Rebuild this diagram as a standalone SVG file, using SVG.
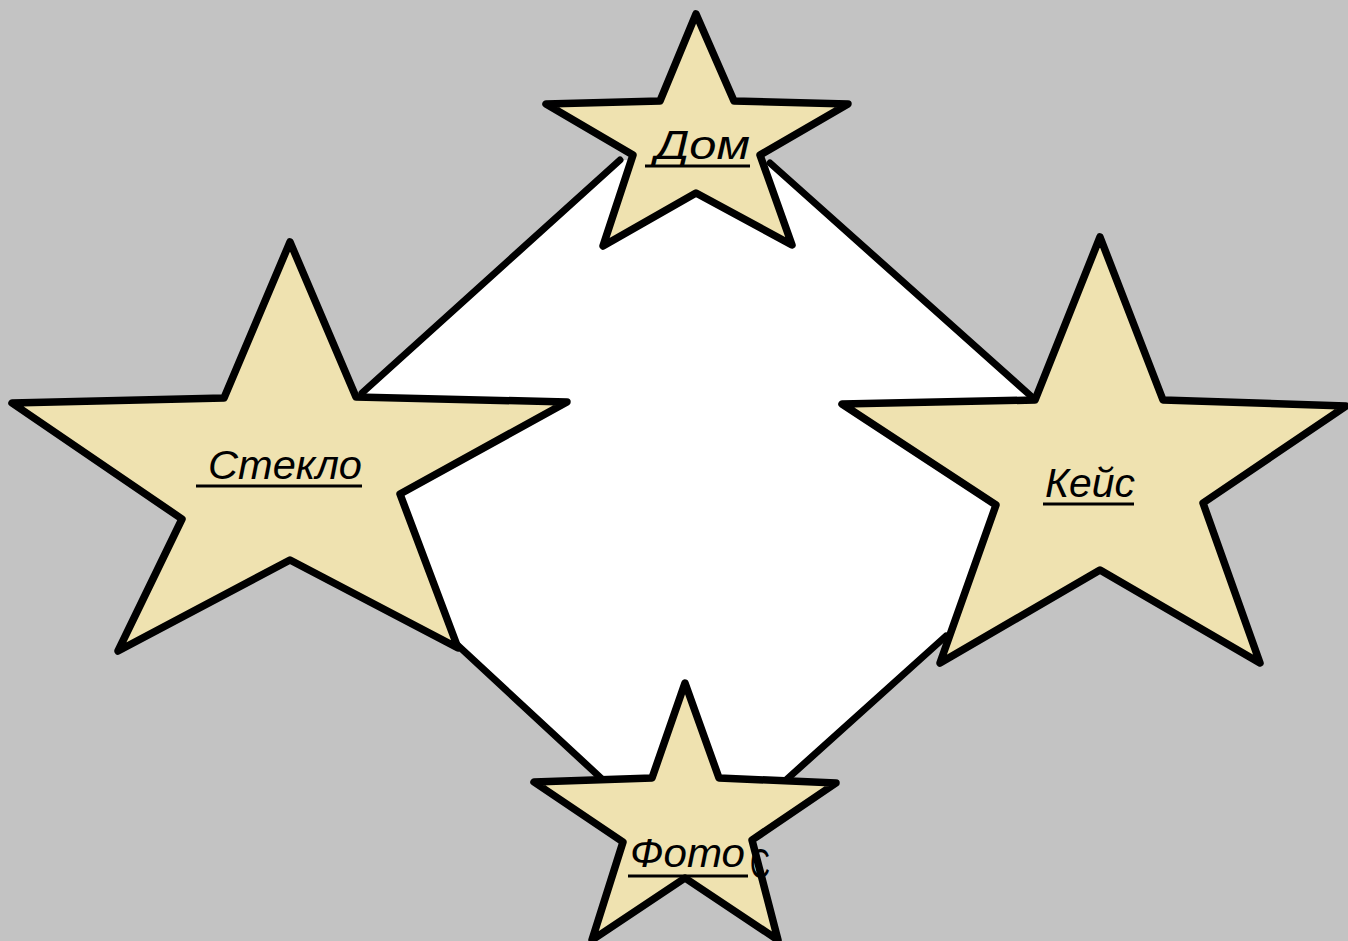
<svg xmlns="http://www.w3.org/2000/svg" width="1348" height="941" viewBox="0 0 1348 941">
<style>
.star{fill:#efe2b0;stroke:#000;stroke-width:7.5;stroke-linejoin:round}
.conn{stroke:#000;stroke-width:7;stroke-linecap:round}
.lbl{font-family:"Liberation Sans",Arial,sans-serif;font-style:italic;font-size:41px;fill:#000}
.ul{stroke:#000;stroke-width:3}
</style>
<rect width="1348" height="941" fill="#c3c3c3"/>
<polygon fill="#fff" points="362,393 620,160 770,163 1032,397 996,505 946,636 786,780 603,780 452,640 400,494"/>
<g id="connectors">
<line class="conn" x1="362" y1="393" x2="620" y2="160"/>
<line class="conn" x1="770" y1="163" x2="1032" y2="397"/>
<line class="conn" x1="452" y1="640" x2="603" y2="780"/>
<line class="conn" x1="946" y1="636" x2="786" y2="780"/>
</g>
<g id="dom">
<polygon class="star" points="696,14 734,101 848,104 760,155 792,245 696,193 603,246 633,155 546,104 660,101"/>
<text class="lbl" x="655" y="159" textLength="95" lengthAdjust="spacingAndGlyphs">Дом</text>
<line class="ul" x1="645" y1="166" x2="750" y2="166"/>
</g>
<g id="steklo">
<polygon class="star" points="290,242 356,397 567,402 400,494 458,648 290,560 118,651 182,519 12,403 224,398"/>
<text class="lbl" x="208" y="479" textLength="154" lengthAdjust="spacingAndGlyphs">Стекло</text>
<line class="ul" x1="196" y1="486" x2="362" y2="486"/>
</g>
<g id="keis">
<polygon class="star" points="1100,237 1163,400 1346,406 1203,503 1260,663 1100,570 940,663 996,505 842,404 1035,400"/>
<text class="lbl" x="1045" y="497" textLength="90" lengthAdjust="spacingAndGlyphs">Кейс</text>
<line class="ul" x1="1043" y1="504" x2="1134" y2="504"/>
</g>
<g id="foto">
<polygon class="star" points="685,683 719,778 836,783 752,840 778,940 685,878 592,940 623,842 534,782 652,778"/>
<text class="lbl" x="630" y="867" textLength="115" lengthAdjust="spacingAndGlyphs">Фото</text>
<line class="ul" x1="628" y1="876" x2="748" y2="876"/>
<text x="750" y="878" font-family="Liberation Sans,Arial,sans-serif" font-size="42" fill="#000" textLength="20" lengthAdjust="spacingAndGlyphs">С</text>
</g>
</svg>
